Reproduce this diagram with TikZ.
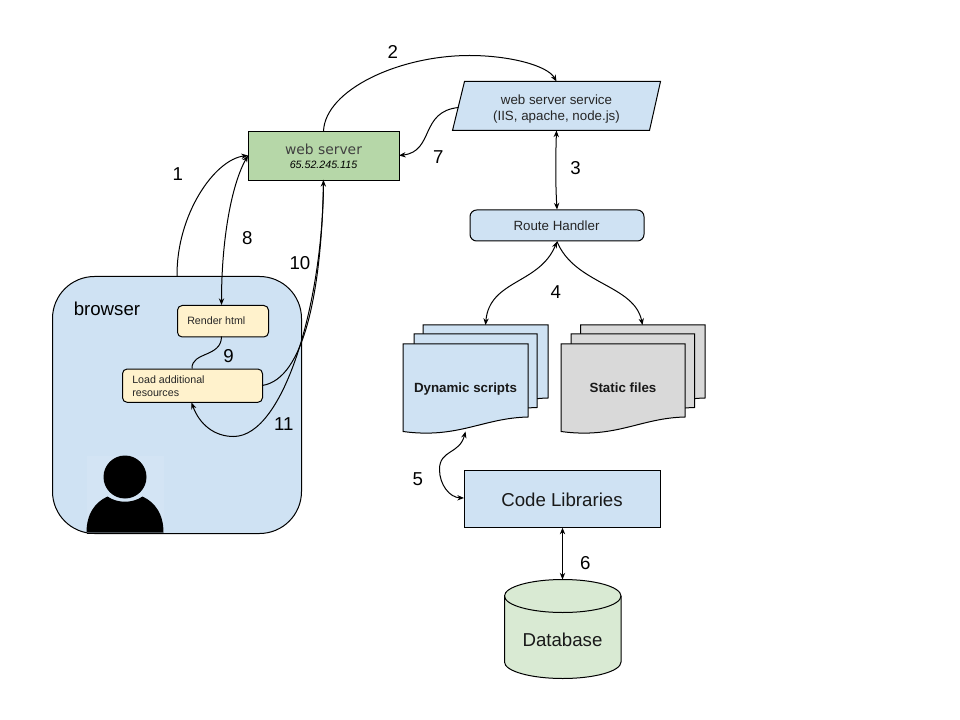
\documentclass[tikz,border=0pt]{standalone}
\usepackage{fontspec}
\setmainfont{Liberation Sans}
\newfontfamily\wideface{DejaVu Sans}
\usetikzlibrary{arrows.meta}
\definecolor{bluef}{HTML}{CFE2F3}
\definecolor{greenf}{HTML}{B6D7A8}
\definecolor{yellowf}{HTML}{FFF2CC}
\definecolor{grayf}{HTML}{D9D9D9}
\definecolor{dbf}{HTML}{D9EAD3}
\tikzset{
  x=0.75pt,y=-0.75pt,
  shape line/.style={draw=black,line width=0.75pt},
  conn/.style={draw=black,line width=0.75pt,-{Stealth[length=5pt,width=4pt]}},
  conntwo/.style={draw=black,line width=0.75pt,{Stealth[length=5pt,width=4pt]}-{Stealth[length=5pt,width=4pt]}},
  plainconn/.style={draw=black,line width=0.75pt},
  rbox/.style={shape line,rounded corners=3.5pt,anchor=north west,inner sep=0pt},
  num/.style={font=\fontsize{14}{16}\selectfont,text=black,anchor=base,inner sep=0pt,yshift=-1pt,xshift=0.3pt},
  lab/.style={font=\fontsize{10}{12}\selectfont,text=black!85,anchor=base,inner sep=0pt,yshift=-0.7pt},
  small/.style={font=\fontsize{8}{10}\selectfont,text=black!85,anchor=base west,inner sep=0pt},
  bold/.style={font=\fontsize{10}{12}\selectfont\bfseries,text=black!90,anchor=base,inner sep=0pt,yshift=-0.5pt},
  big/.style={font=\fontsize{14}{16}\selectfont,text=black!90,anchor=base,inner sep=0pt,yshift=-1.2pt}
}
\newcommand{\docsheet}[5]{% left right top bottomright colour
  \path[shape line,fill=#5] (#1,#3) -- (#2,#3) -- (#2,#4) .. controls ({#2-45},{#4+1}) and ({#1+55},{#4+22}) .. (#1,{#4+14.5}) -- cycle;
}
\begin{document}
\begin{tikzpicture}
\useasboundingbox (0.5,0.5) rectangle (960.5,720.5);
\fill[white] (0.5,0.5) rectangle (960.5,720.5);

% browser
\node[shape line,fill=bluef,rounded corners=31.5pt,minimum width=186.75pt,minimum height=192.75pt,anchor=north west,inner sep=0pt] (browser) at (52.5,276.5) {};
\node[font=\fontsize{14}{16}\selectfont,anchor=base west,inner sep=0pt] (browserlab) at (74,316) {browser};

% person
\fill[white!8!bluef] (87,456) rectangle (164,533);
\fill[black] (125.5,477.5) circle[radius=21.5*0.75pt];
\fill[black] (87,533) .. controls (87,515) and (95,503) .. (108,497) .. controls (118,504) and (133,504) .. (143,497) .. controls (156,503) and (164,515) .. (164,533) -- cycle;
\draw[shape line] (87,533.5) -- (164,533.5);

% boxes
\node[shape line,fill=greenf,minimum width=113.25pt,minimum height=36.75pt,anchor=north west,inner sep=0pt,align=center] (web) at (248.5,131.5) {};
\node[font=\fontsize{10.4}{12}\selectfont\wideface,text=black!75,anchor=base,inner sep=0pt] (webt) at (324,155) {web server};
\node[font=\fontsize{8}{10}\selectfont\itshape,anchor=base,inner sep=0pt] (webip) at (324,169) {65.52.245.115};

\path[shape line,fill=bluef] (465,82) -- (661,82) -- (650,131) -- (453,131) -- cycle;
\coordinate (svc) at (557,106.5);
\coordinate (svctop) at (557,82);
\coordinate (svcbot) at (557,131);
\coordinate (svcleft) at (459,108);
\node[lab] (svct) at (557,104) {web server service};
\node[lab] (svcu) at (557,120) {(IIS, apache, node.js)};

\node[rbox,fill=bluef,rounded corners=5pt,minimum width=130.5pt,minimum height=23.25pt] (route) at (470,210) {};
\node[lab] (routet) at (557,230.5) {Route Handler};

\node[rbox,fill=yellowf,minimum width=68.25pt,minimum height=23.6pt] (render) at (177.5,305.5) {};
\node[small] (rendert) at (187.5,325.5) {Render html};
\node[rbox,fill=yellowf,minimum width=105pt,minimum height=25pt] (load) at (122.5,369) {};
\node[small] (loada) at (132.5,384) {Load additional};
\node[small] (loadb) at (132.5,397) {resources};

% documents
\docsheet{423.5}{548.5}{325.5}{398.5}{bluef}
\docsheet{414.5}{537.5}{334.5}{408}{bluef}
\docsheet{403.5}{528.5}{344.5}{417.5}{bluef}
\docsheet{581}{705.5}{325.5}{398.5}{grayf}
\docsheet{571.5}{695}{334.5}{408}{grayf}
\docsheet{561.5}{685.5}{344.5}{417.5}{grayf}
\node[bold] (dyn) at (466,392.5) {Dynamic scripts};
\node[bold] (sta) at (623.5,392.5) {Static files};
\coordinate (dyntop) at (486,325.5);
\coordinate (statop) at (643,325.5);
\coordinate (dynbot) at (466,432);

\node[shape line,fill=bluef,minimum width=147pt,minimum height=42.5pt,anchor=north west,inner sep=0pt] (code) at (464.5,470.5) {};
\node[big] (codet) at (562.5,505) {Code Libraries};

% database
\path[shape line,fill=dbf] (505,596.5) arc[x radius=58.25,y radius=16.5,start angle=180,end angle=360] -- (621.5,662.5) arc[x radius=58.25,y radius=16.5,start angle=0,end angle=180] -- cycle;
\draw[shape line] (505,596.5) arc[x radius=58.25,y radius=16.5,start angle=180,end angle=0];
\coordinate (dbtop) at (563,580);
\node[big] (dbt) at (563,645) {Database};

% connectors
\coordinate (webW) at (248.5,156);
\coordinate (webE) at (399.5,156);
\coordinate (webS) at (324,180.5);
\coordinate (webT) at (324,131.5);
\coordinate (brTop) at (177.5,276.5);
\coordinate (renderT) at (222,305.5);
\coordinate (renderB) at (222,337);
\coordinate (loadT) at (192.5,369);
\coordinate (loadE) at (262.5,386);
\coordinate (loadB) at (192,403);
\draw[conn] (brTop) .. controls (177,215) and (215,160) .. (webW);
\draw[conntwo] (webW) .. controls (232,185) and (222,240) .. (renderT);
\draw[conn] (webT) .. controls (326,90) and (400,56) .. (470,56) .. controls (510,56) and (548,66) .. (svctop);
\draw[conn] (svcleft) .. controls (420,112) and (435,152) .. (webE);
\draw[conntwo] (svcbot) .. controls (556,160) and (556,185) .. (route.north);
\draw[conntwo] (route.south) .. controls (540,285) and (490,280) .. (dyntop);
\draw[conn] (route.south) .. controls (575,285) and (635,285) .. (statop);
\draw[plainconn] (renderB) .. controls (222,358) and (192,352) .. (loadT);
\draw[conn] (loadE) .. controls (305,380) and (322,290) .. (webS);
\draw[conn] (webS) .. controls (324,300) and (285,437) .. (234,437) .. controls (215,437) and (200,425) .. (loadB);
\draw[conntwo] (dynbot) .. controls (460,455) and (440,450) .. (440,470) .. controls (440,485) and (450,498) .. (464.5,498.5);
\draw[conntwo] (code.south) -- (dbtop);

\node[num] (n1) at (178,180) {1};
\node[num] (n2) at (393,57.5) {2};
\node[num] (n3) at (575.7,173.3) {3};
\node[num] (n4) at (556,298) {4};
\node[num] (n5) at (418,485) {5};
\node[num] (n6) at (585.3,568.3) {6};
\node[num] (n7) at (438.3,162.7) {7};
\node[num] (n8) at (247.5,243.3) {8};
\node[num] (n9) at (228.7,361.5) {9};
\node[num] (n10) at (300,269) {10};
\node[num] (n11) at (284,430) {11};
\end{tikzpicture}
\end{document}
